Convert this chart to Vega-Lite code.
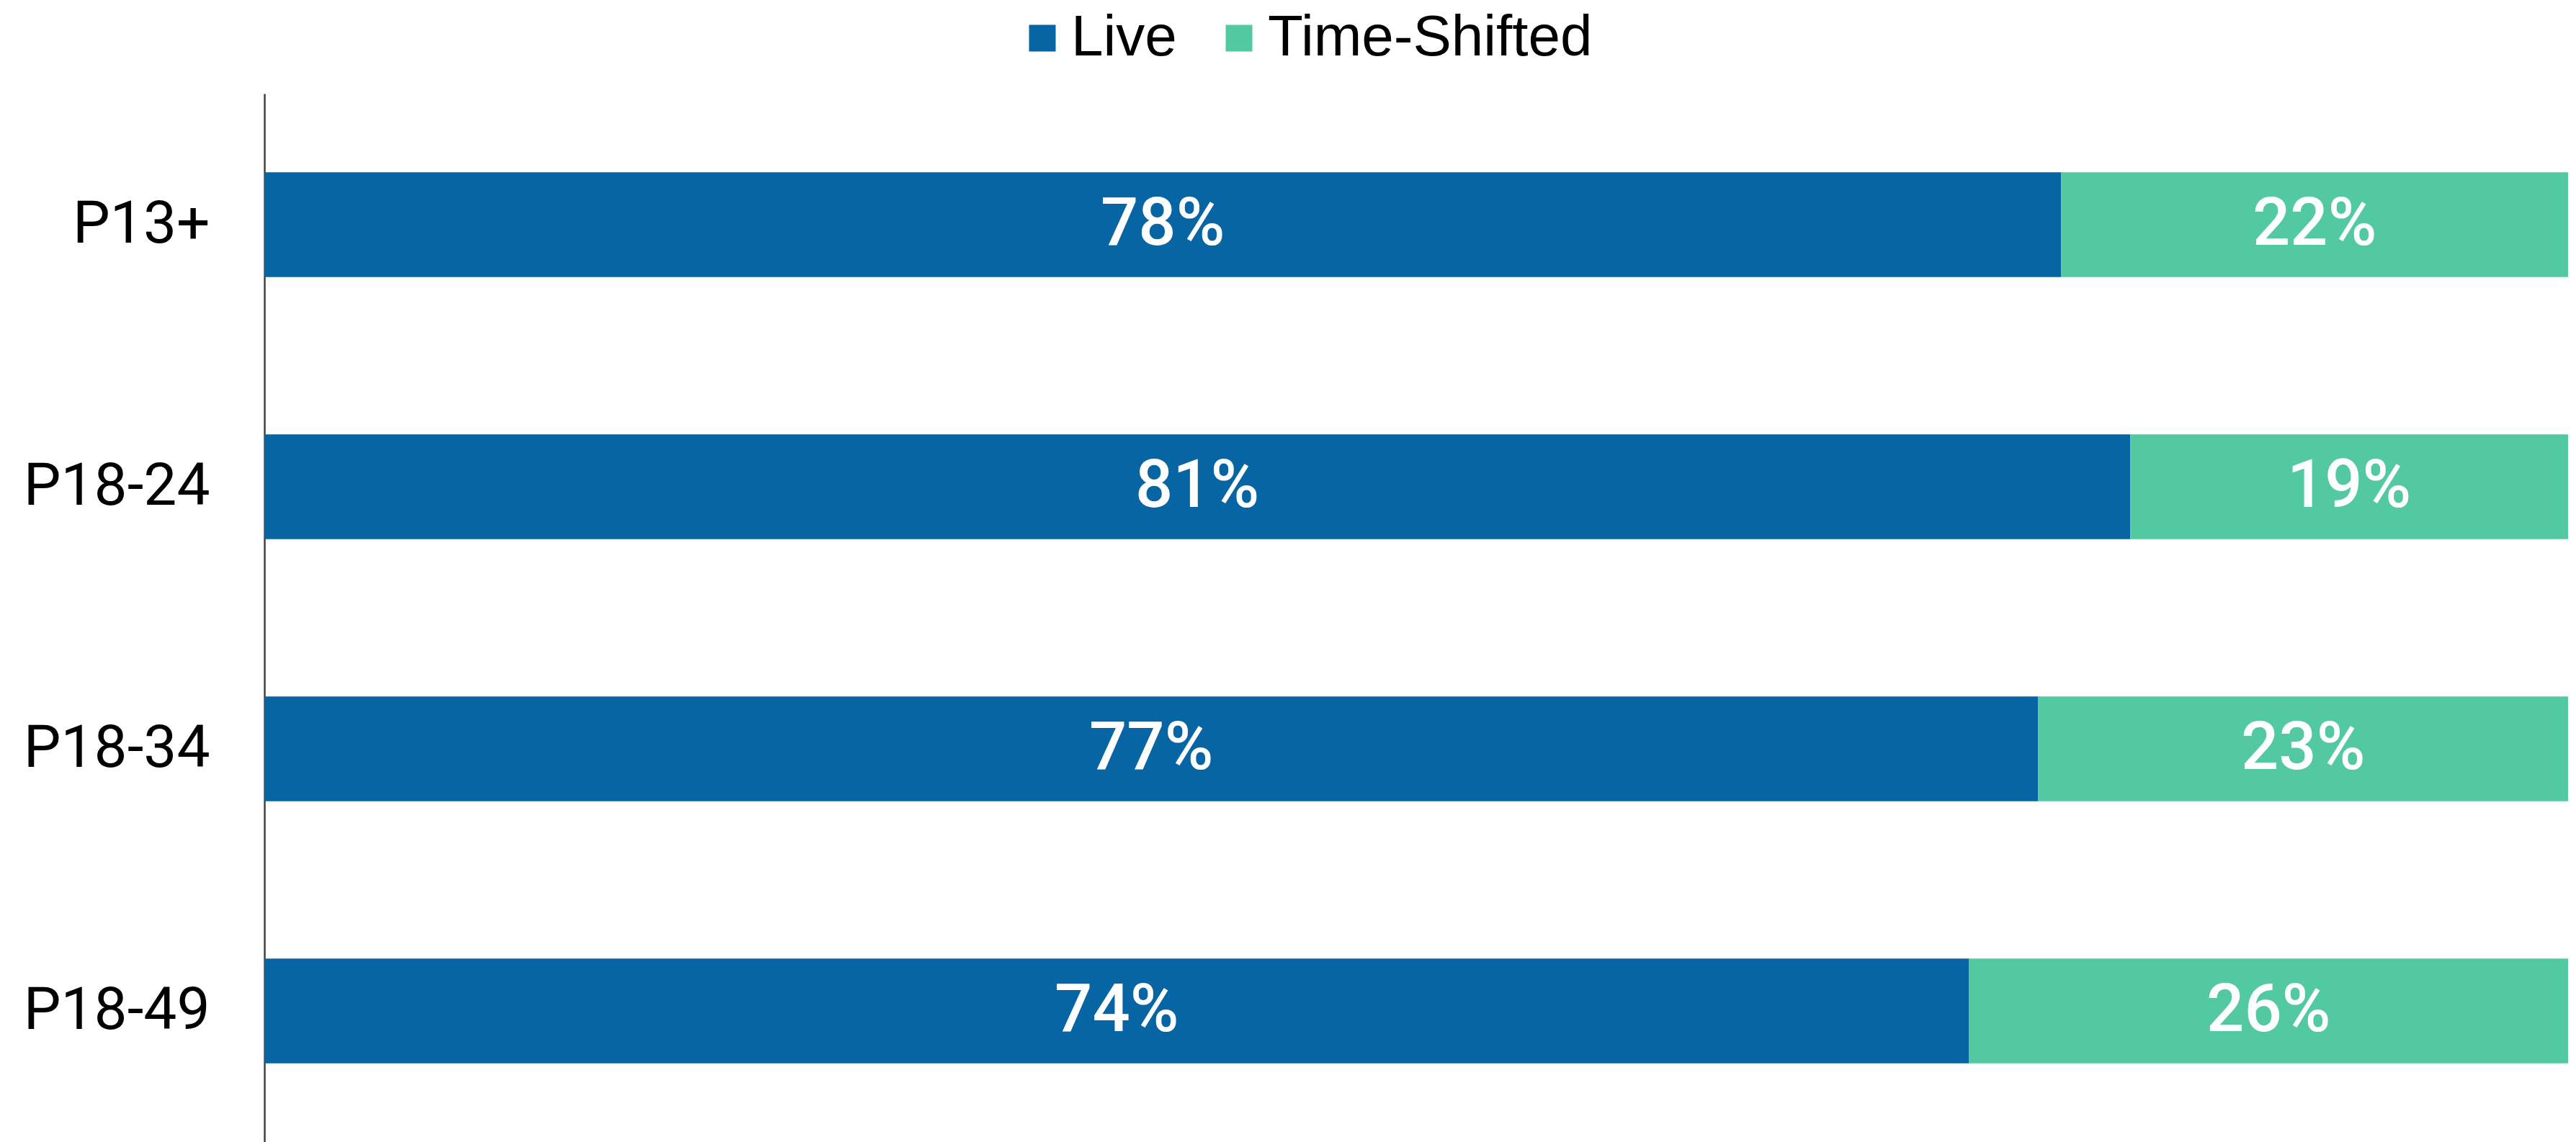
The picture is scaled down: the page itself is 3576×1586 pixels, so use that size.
{
  "$schema": "https://vega.github.io/schema/vega-lite/v6.json",
  "width": 3198,
  "height": 1456,
  "autosize": {"type": "none"},
  "padding": {"left": 367, "top": 130, "right": 11, "bottom": 0},
  "background": "white",
  "config": {"view": {"stroke": null}},
  "data": {
    "values": [
      {"group": "P13+", "series": "Live", "value": 0.78},
      {"group": "P13+", "series": "Time-Shifted", "value": 0.22},
      {"group": "P18-24", "series": "Live", "value": 0.81},
      {"group": "P18-24", "series": "Time-Shifted", "value": 0.19},
      {"group": "P18-34", "series": "Live", "value": 0.77},
      {"group": "P18-34", "series": "Time-Shifted", "value": 0.23},
      {"group": "P18-49", "series": "Live", "value": 0.74},
      {"group": "P18-49", "series": "Time-Shifted", "value": 0.26}
    ]
  },
  "transform": [
    {"stack": "value", "groupby": ["group"], "sort": [{"field": "series", "order": "ascending"}], "as": ["v0", "v1"]},
    {"calculate": "(datum.v0 + datum.v1) / 2", "as": "mid"}
  ],
  "encoding": {
    "y": {
      "field": "group",
      "type": "nominal",
      "sort": ["P13+", "P18-24", "P18-34", "P18-49"],
      "scale": {"paddingInner": 0.6, "paddingOuter": 0.3},
      "axis": {
        "title": null,
        "ticks": false,
        "labelFontSize": 82,
        "labelFont": "Roboto",
        "labelColor": "#000000",
        "labelPadding": 76,
        "labelLimit": 1000,
        "domainColor": "#404040",
        "domainWidth": 2.5
      }
    }
  },
  "layer": [
    {
      "mark": {"type": "bar"},
      "encoding": {
        "x": {"field": "v0", "type": "quantitative", "scale": {"domain": [0, 1], "nice": false, "zero": true}, "axis": null},
        "x2": {"field": "v1"},
        "color": {
          "field": "series",
          "type": "nominal",
          "scale": {"domain": ["Live", "Time-Shifted"], "range": ["#0865A3", "#52C9A1"]},
          "legend": {
            "title": null,
            "orient": "none",
            "direction": "horizontal",
            "legendX": 1040,
            "legendY": -117,
            "symbolType": "square",
            "symbolSize": 1369,
            "symbolStrokeWidth": 0,
            "symbolOpacity": 1,
            "labelFontSize": 80,
            "labelFont": "Liberation Sans",
            "labelColor": "#000000",
            "labelOffset": 0,
            "labelLimit": 1000,
            "columnPadding": 46
          }
        }
      }
    },
    {
      "mark": {"type": "text", "color": "white", "fontSize": 92, "font": "Roboto", "fontWeight": 500, "baseline": "middle", "align": "center"},
      "encoding": {
        "x": {"field": "mid", "type": "quantitative"},
        "text": {"field": "value", "type": "quantitative", "format": ".0%"}
      }
    }
  ]
}
